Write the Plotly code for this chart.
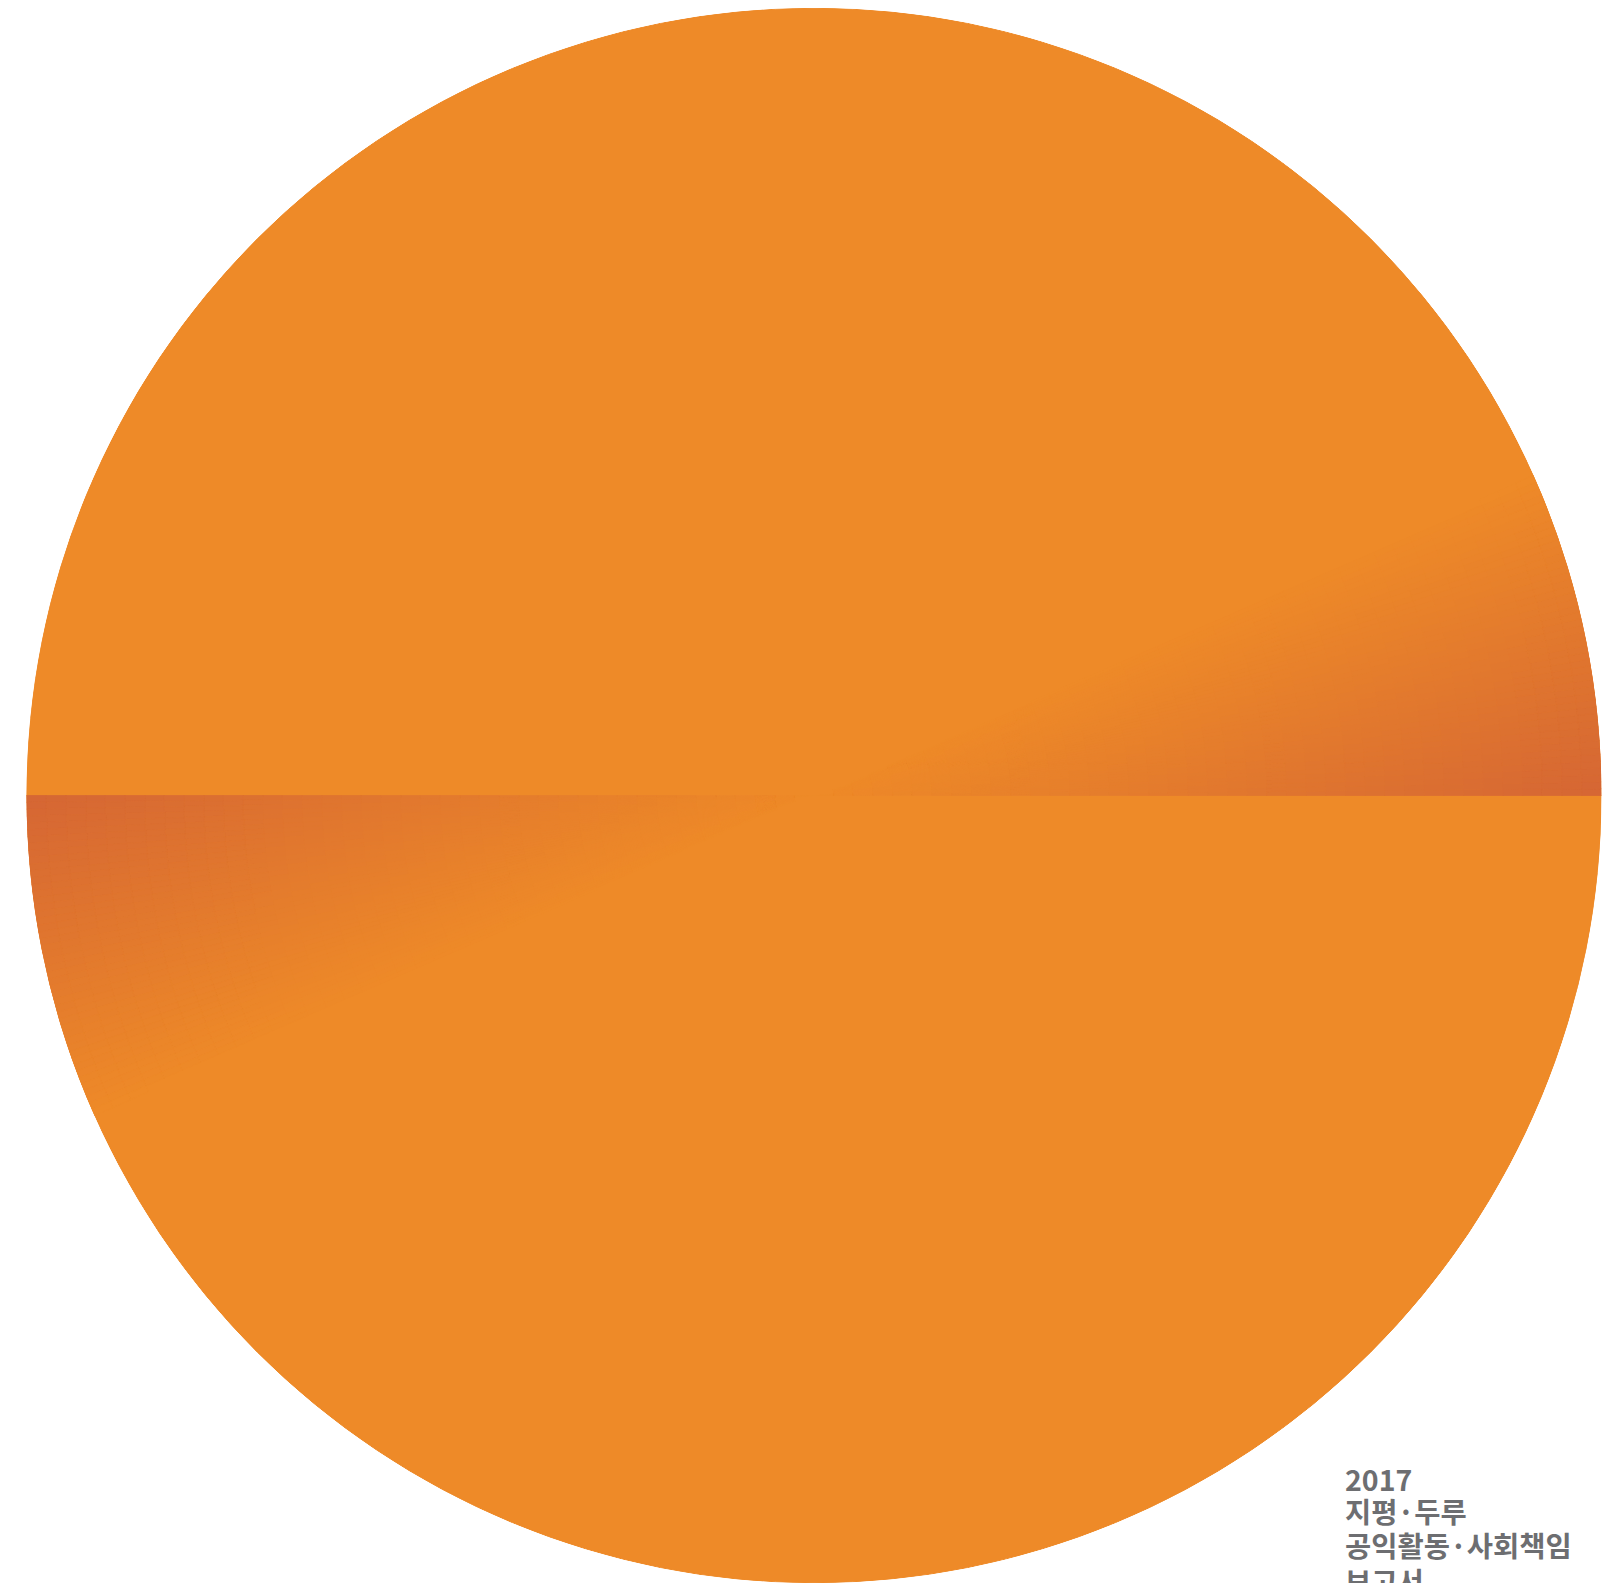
import math
import plotly.graph_objects as go

# ---- data ----
SEGMENT_LABELS = ["upper half", "lower half"]
SEGMENT_VALUES = [50, 50]
TITLE_LINES = ["2017", "지평·두루", "공익활동·사회책임", "보고서"]

# ---- style ----
ORANGE = (238, 138, 40)
DARK = (213, 102, 52)
GRAD_SPAN = 24.0      # degrees of the shaded wedge in each half
N_RINGS = 40
N_ANG = 48
TEXT_COLOR = "#6d6e71"
W, H = 1597, 1575


def mix(t):
    c = [round(DARK[i] + (ORANGE[i] - DARK[i]) * t) for i in range(3)]
    return "rgb(%d,%d,%d)" % tuple(c)


total = sum(SEGMENT_VALUES)
seg_width = [v / total * 360.0 for v in SEGMENT_VALUES]
seg_start = [sum(seg_width[:i]) for i in range(len(seg_width))]
seg_center = [s + w / 2 for s, w in zip(seg_start, seg_width)]

fig = go.Figure()
fig.add_trace(go.Barpolar(
    r=[1.0] * len(SEGMENT_VALUES), theta=seg_center, width=seg_width,
    marker=dict(color=mix(1.0), line=dict(color=mix(1.0), width=1)),
    hoverinfo="skip", showlegend=False, name="disc",
))

# shaded wedge at the start of each half
g_r, g_base, g_theta, g_w, g_col = [], [], [], [], []
dth = GRAD_SPAN / N_ANG
for s in seg_start:
    for i in range(N_RINGS):
        rm = (i + 0.5) / N_RINGS
        for j in range(N_ANG):
            th = (j + 0.5) * dth
            d = rm * math.sin(math.radians(GRAD_SPAN - th)) / math.sin(math.radians(GRAD_SPAN))
            if d < 0.01:
                continue
            g_r.append(1.0 / N_RINGS)
            g_base.append(i / N_RINGS)
            g_theta.append(s + th)
            g_w.append(dth)
            g_col.append(mix(1 - d))

fig.add_trace(go.Barpolar(
    r=g_r, base=g_base, theta=g_theta, width=g_w,
    marker=dict(color=g_col, line=dict(color=g_col, width=0.8)),
    hoverinfo="skip", showlegend=False, name="shade",
))

fig.update_layout(
    width=W, height=H, margin=dict(l=0, r=0, t=0, b=0),
    paper_bgcolor="white",
    polar=dict(
        domain=dict(x=[18.5 / W, 1593.5 / W], y=[0, 1]),
        bgcolor="white", bargap=0, hole=0,
        radialaxis=dict(visible=False, range=[0, 1]),
        angularaxis=dict(visible=False, rotation=0, direction="counterclockwise"),
    ),
)

# title lines (page y centres of each line, minus body offset)
line_centers = [1478, 1510, 1544, 1580]
for txt, yc in zip(TITLE_LINES, line_centers):
    fig.add_annotation(
        x=1335 / W, y=1 - (yc - 8) / H, xref="paper", yref="paper",
        xanchor="left", yanchor="middle", align="left", showarrow=False,
        text=txt,
        font=dict(family="Noto Sans CJK KR", size=28.5, color=TEXT_COLOR, weight=700),
    )

fig.write_html("out.html")
